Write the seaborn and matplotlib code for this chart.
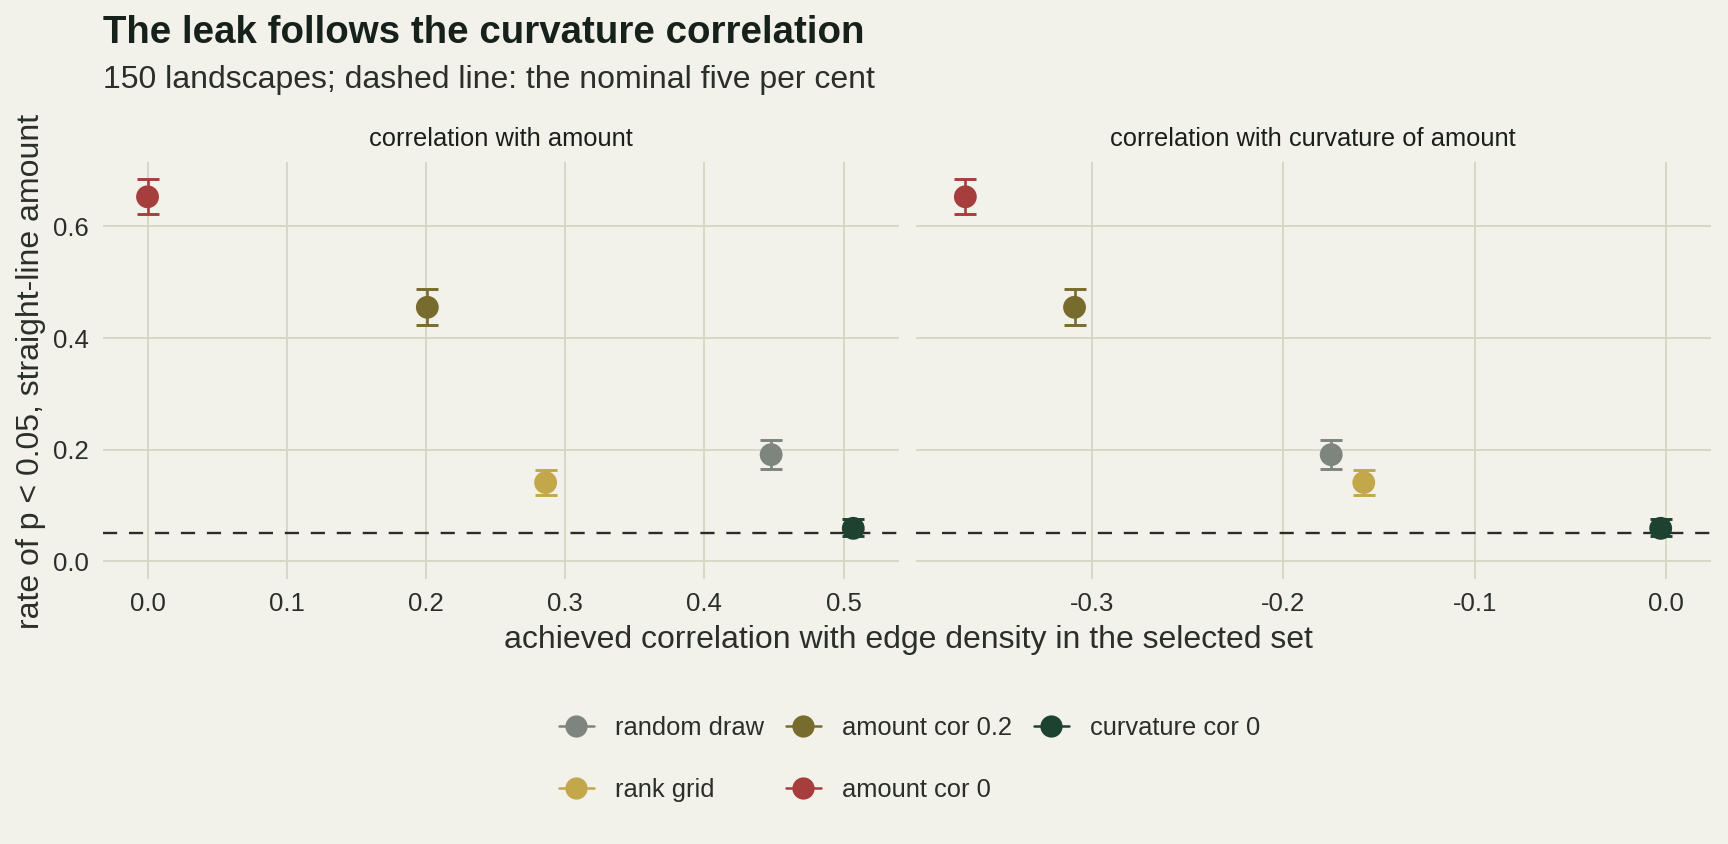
import pandas as pd
import seaborn as sns
import matplotlib.pyplot as plt
from matplotlib.lines import Line2D

# values
methods = ["random draw", "rank grid", "amount cor 0.2", "amount cor 0", "curvature cor 0"]
cor_amount = [0.448, 0.286, 0.201, 0.000, 0.507]
cor_curvature = [-0.175, -0.158, -0.309, -0.366, -0.003]
rate = [0.191, 0.141, 0.455, 0.653, 0.059]
rate_lo = [0.166, 0.119, 0.424, 0.622, 0.045]
rate_hi = [0.217, 0.164, 0.488, 0.684, 0.075]
nominal = 0.05

panels = ["correlation with amount", "correlation with curvature of amount"]
colors = {
    "random draw": "#7e857f",
    "rank grid": "#c2a84a",
    "amount cor 0.2": "#776c2d",
    "amount cor 0": "#a63e3d",
    "curvature cor 0": "#1e4230",
}

df = pd.concat([
    pd.DataFrame({"method": methods, "cor": cor_amount, "rate": rate,
                  "lo": rate_lo, "hi": rate_hi, "panel": panels[0]}),
    pd.DataFrame({"method": methods, "cor": cor_curvature, "rate": rate,
                  "lo": rate_lo, "hi": rate_hi, "panel": panels[1]}),
])

bg = "#f2f1ea"
grid = "#d8d8c7"
ink = "#2a2f2a"

sns.set_theme(style="whitegrid")
plt.rcParams["font.family"] = ["Liberation Sans", "DejaVu Sans"]
plt.rcParams["axes.unicode_minus"] = False

fig, axes = plt.subplots(1, 2, figsize=(17.28, 8.44), dpi=100, sharey=True)
fig.patch.set_facecolor(bg)
fig.subplots_adjust(left=0.0596, right=0.9902, bottom=0.3145, top=0.8075, wspace=0.0214)

xlims = [(-0.032, 0.5395), (-0.392, 0.0233)]
xticks = [[0.0, 0.1, 0.2, 0.3, 0.4, 0.5], [-0.3, -0.2, -0.1, 0.0]]

for ax, panel, xl, xt in zip(axes, panels, xlims, xticks):
    sub = df[df["panel"] == panel]
    ax.set_facecolor(bg)
    ax.axhline(nominal, color="#2b2b2b", lw=1.7, ls=(0, (6, 5)), zorder=1)
    for _, row in sub.iterrows():
        ax.errorbar(row["cor"], row["rate"],
                    yerr=[[row["rate"] - row["lo"]], [row["hi"] - row["rate"]]],
                    fmt="none", ecolor=colors[row["method"]], elinewidth=1.9,
                    capsize=8, capthick=2.1, zorder=2)
    sns.scatterplot(data=sub, x="cor", y="rate", hue="method", palette=colors,
                    s=270, linewidth=0, legend=False, ax=ax, zorder=3)
    ax.set_xlim(*xl)
    ax.set_ylim(-0.031, 0.7145)
    ax.set_xticks(xt)
    ax.set_xticklabels([f"{v:.1f}" for v in xt])
    ax.set_yticks([0.0, 0.2, 0.4, 0.6])
    ax.set_yticklabels(["0.0", "0.2", "0.4", "0.6"])
    ax.grid(True, color=grid, lw=1.4)
    for spine in ax.spines.values():
        spine.set_visible(False)
    ax.tick_params(length=0, labelsize=18.5, colors=ink, pad=10)
    ax.set_xlabel("")
    ax.set_ylabel("")
    ax.set_title(panel, fontsize=18.4, color="#1a1f1a", pad=12)

axes[1].tick_params(labelleft=False)

fig.text(0.0596, 0.949, "The leak follows the curvature correlation",
         fontsize=27.7, fontweight="bold", color="#17211b", ha="left", va="baseline")
fig.text(0.0596, 0.8957, "150 landscapes; dashed line: the nominal five per cent",
         fontsize=23, color=ink, ha="left", va="baseline")
fig.text(0.5255, 0.2322, "achieved correlation with edge density in the selected set",
         fontsize=23, color=ink, ha="center", va="baseline")
fig.text(31 / 1728, 1 - 371 / 844, "rate of p < 0.05, straight-line amount",
         fontsize=23, color=ink, ha="center", va="center", rotation=90)

handles = [Line2D([0], [0], color=colors[m], marker="o", markersize=16, lw=1.8,
                  markeredgewidth=0) for m in methods]
leg = fig.legend(handles, methods, loc="center", bbox_to_anchor=(0.5263, 0.1007),
                 ncol=3, frameon=False, fontsize=18.4, handlelength=1.37,
                 handletextpad=0.82, columnspacing=0.86, labelspacing=1.46)
for t in leg.get_texts():
    t.set_color(ink)

plt.savefig("out.png", dpi=100, facecolor=bg)
